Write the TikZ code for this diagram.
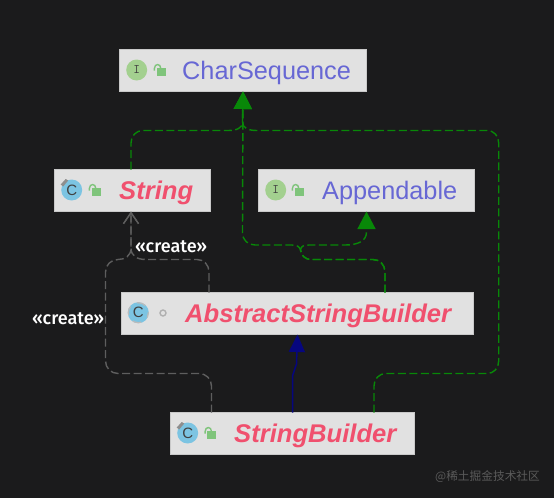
\documentclass[tikz,border=0pt]{standalone}
\usepackage{fontspec}
\setmainfont{Liberation Sans}
\newfontfamily\cjkwm{Noto Sans CJK SC}
\newfontfamily\labfont{Fira Sans Medium}
\usetikzlibrary{arrows.meta}
\definecolor{bgc}{HTML}{1B1B1C}
\definecolor{boxc}{HTML}{E1E1E1}
\definecolor{boxe}{HTML}{C9C9C9}
\definecolor{ifc}{HTML}{6767D4}
\definecolor{abc}{HTML}{F0506E}
\definecolor{grn}{HTML}{088808}
\definecolor{blu}{HTML}{06067F}
\definecolor{gry}{HTML}{5E5E5E}
\definecolor{lockc}{HTML}{7FC47B}
\definecolor{ific}{HTML}{A3D08F}
\definecolor{clc}{HTML}{7CC4E2}
\definecolor{pinc}{HTML}{8E8E8E}
\definecolor{wmc}{HTML}{5A5A5A}
\tikzset{
  x=1pt,y=-1pt,
  umlbox/.style={draw=boxe,line width=1pt,fill=boxc,anchor=north west,inner sep=0pt,outer sep=0pt},
  ifname/.style={anchor=base west,inner sep=0pt,text=ifc,font=\fontsize{25.3}{28}\selectfont},
  clname/.style={anchor=base west,inner sep=0pt,text=abc,font=\fontsize{25.6}{28}\selectfont\bfseries\itshape},
  stereo/.style={anchor=base west,inner sep=0pt,text=white,font=\labfont\fontsize{18}{20}\selectfont},
  glyph/.style={inner sep=0pt,text=black!75,font=\fontsize{15}{16}\selectfont},
  realize/.style={grn,line width=1.4pt,dash pattern=on 8pt off 3.5pt,
    -{Triangle[length=17.5pt,width=18pt,fill=grn]}},
  dep/.style={gry,line width=1.4pt,dash pattern=on 8pt off 3.5pt,
    -{Straight Barb[length=11pt,width=15pt,line width=1.3pt]}},
  extend/.style={blu,line width=1.5pt,-{Triangle[length=17.5pt,width=16pt,fill=blu]}},
  lockicon/.pic={
    \fill[lockc] (-3.3,-1.7) rectangle (5.7,5.7);
    \draw[lockc,line width=1.4pt] (-5.6,0.5) -- (-5.6,-1.5) .. controls (-5.6,-6.8) and (0.8,-6.8) .. (0.8,-1.5);
  },
  clicon/.pic={
    \fill[clc] (0,0) circle[radius=10.5];
    \fill[pinc] (-11,-5.5) -- (-6,-11) -- (-3.5,-9.5) -- (-8.5,-3.5) -- cycle;
    \node[glyph] at (0,0) {C};
  },
  ificon/.pic={
    \fill[ific] (0,0) circle[radius=10.5];
    \node[glyph,font=\fontsize{13}{15}\selectfont\ttfamily] at (0,0) {I};
  },
}
\begin{document}
\begin{tikzpicture}
\useasboundingbox[fill=bgc] (0,0) rectangle (554,498);
% boxes
\node[umlbox,minimum width=247pt,minimum height=42pt] (cs) at (119.5,49.5) {};
\node[umlbox,minimum width=156pt,minimum height=42pt] (strn) at (54.5,169.5) {};
\node[umlbox,minimum width=216pt,minimum height=42pt] (app) at (258.5,169.5) {};
\node[umlbox,minimum width=352pt,minimum height=42pt] (asb) at (121.5,292.5) {};
\node[umlbox,minimum width=244pt,minimum height=42pt] (sb) at (170.5,412.5) {};
% names
\node[ifname] (csn) at (182,79) {CharSequence};
\node[clname] (strnn) at (119,199) {String};
\node[ifname] (appn) at (322,199) {Appendable};
\node[clname] (asbn) at (185,322) {AbstractStringBuilder};
\node[clname] (sbn) at (234,442) {StringBuilder};
% icons
\pic at (136.7,70) {ificon};
\pic at (160,70) {lockicon};
\pic at (71.7,190) {clicon};
\pic at (95,190) {lockicon};
\pic at (275.7,190) {ificon};
\pic at (298,190) {lockicon};
\fill[clc] (138.3,312.7) circle[radius=10.5];
\draw[pinc!60,line width=1.2pt,dash pattern=on 9pt off 7.5pt,dash phase=4pt] (138.3,312.7) circle[radius=10];
\node[glyph] (asbc) at (138.3,312.7) {C};
\draw[pinc!70,line width=1.4pt] (163,313) circle[radius=3];
\pic at (187.7,433) {clicon};
\pic at (210.7,433) {lockicon};
% connectors
\draw[realize] ([xshift=76.5pt]strn.north west) -- (131,143) .. controls (131,136) and (136,130.5) .. (143,130.5) -- (228,130.5)
  .. controls (237,130.5) and (242.5,128) .. (242.5,122) -- (cs.south);
\draw[realize] ([xshift=203.5pt]sb.north west) -- (374,386) .. controls (374,379) and (379,373.5) .. (386,373.5) -- (487,373.5)
  .. controls (494,373.5) and (498.7,368) .. (498.7,361) -- (498.7,143) .. controls (498.7,136) and (494,130.5) .. (487,130.5) -- (257,130.5)
  .. controls (248,130.5) and (242.5,128) .. (242.5,122) -- (cs.south);
\draw[realize] ([xshift=263.5pt]asb.north west) -- (385,272) .. controls (385,265) and (380,259.5) .. (373,259.5) -- (312,259.5)
  .. controls (304,259.5) and (301.5,255) .. (300.5,250) .. controls (299.5,246.5) and (297,245) .. (292,245)
  -- (255,245) .. controls (248,245) and (242.5,240) .. (242.5,233) -- (cs.south);
\draw[realize] ([xshift=263.5pt]asb.north west) -- (385,272) .. controls (385,265) and (380,259.5) .. (373,259.5) -- (312,259.5)
  .. controls (304,259.5) and (301.5,255) .. (300.5,250) .. controls (301,246.5) and (303,245) .. (309,245)
  -- (345,245) .. controls (358,245) and (366.5,241) .. (366.5,232) -- (app.south);
\draw[extend] ([xshift=122pt]sb.north west) -- (292.5,376) -- (296.5,364) -- (asb.south);
\draw[dep] ([xshift=41pt]sb.north west) -- (211.5,386) .. controls (211.5,379) and (206,373.5) .. (199,373.5) -- (118,373.5)
  .. controls (111,373.5) and (105.5,368) .. (105.5,361) -- (105.5,272) .. controls (105.5,265) and (111,259.5) .. (118,259.5)
  .. controls (125,259.5) and (131,256) .. (131,248) -- ([xshift=76.5pt]strn.south west);
\draw[dep] ([xshift=87.5pt]asb.north west) -- (209,272) .. controls (209,265) and (204,259.5) .. (197,259.5) -- (146,259.5)
  .. controls (137,259.5) and (131,256) .. (131,248) -- ([xshift=76.5pt]strn.south west);
% labels
\node[stereo] (lab1) at (135,252) {«create»};
\node[stereo] (lab2) at (32,324) {«create»};
\node[anchor=base west,inner sep=0pt,text=wmc,font=\cjkwm\fontsize{11.7}{14}\selectfont] (wm) at (435,480.5) {@稀土掘金技术社区};
\end{tikzpicture}
\end{document}
